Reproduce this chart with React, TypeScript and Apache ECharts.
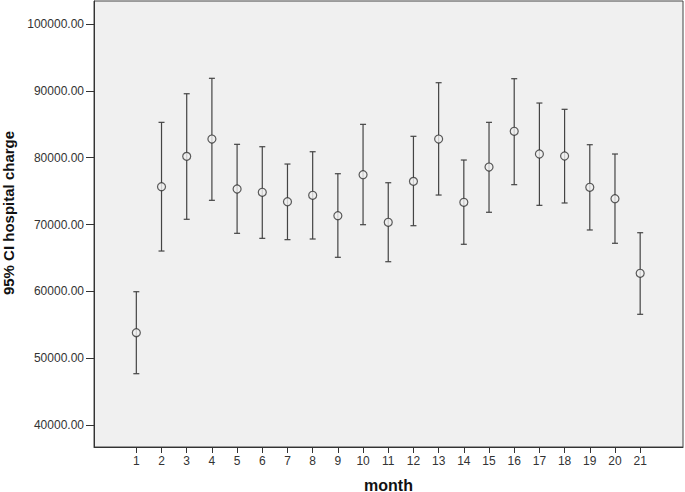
import React, { useEffect, useRef } from "react";
import * as echarts from "echarts";

const months = [1, 2, 3, 4, 5, 6, 7, 8, 9, 10, 11, 12, 13, 14, 15, 16, 17, 18, 19, 20, 21];
const means = [53810, 75660, 80200, 82790, 75310, 74820, 73410, 74370, 71320, 77450, 70330, 76460, 82790, 73320, 78600, 83950, 80550, 80250, 75570, 73860, 62700];
const upper = [59940, 85290, 89570, 91880, 82000, 81640, 79050, 80890, 77600, 84990, 76250, 83200, 91220, 79650, 85290, 91820, 88180, 87240, 81940, 80550, 68770];
const lower = [47670, 66030, 70780, 73620, 68680, 67930, 67730, 67830, 65090, 69970, 64430, 69820, 74410, 67040, 71830, 75960, 72870, 73220, 69180, 67190, 56560];
const yTicks = [40000, 50000, 60000, 70000, 80000, 90000, 100000];

export default function App() {
  const ref = useRef<HTMLDivElement>(null);
  useEffect(() => {
    if (!ref.current) return;
    const chart = echarts.init(ref.current, null, { renderer: "svg" });
    const font = "'Liberation Sans', Arial, sans-serif";
    chart.setOption({
      animation: false,
      grid: {
        left: 94,
        top: 1,
        width: 589,
        height: 446,
        outerBoundsMode: "none",
        containLabel: false,
        show: true,
        backgroundColor: "#f0f0f0",
        borderColor: "#444",
        borderWidth: 1,
      },
      graphic: [
        {
          type: "text",
          x: 8,
          y: 213,
          rotation: Math.PI / 2,
          style: {
            text: "95% CI hospital charge",
            font: "bold 15px 'Liberation Sans', Arial, sans-serif",
            fill: "#111",
            align: "center",
            verticalAlign: "middle",
          },
        },
      ],
      xAxis: {
        type: "value",
        min: -0.68,
        max: 22.7,
        name: "month",
        nameLocation: "middle",
        nameGap: 30,
        nameTextStyle: { fontFamily: font, fontWeight: "bold", fontSize: 16, color: "#111" },
        splitLine: { show: false },
        axisLine: { show: true, onZero: false, lineStyle: { color: "#333", width: 1 } },
        axisTick: { show: true, customValues: months, length: 6, lineStyle: { color: "#333" } },
        axisLabel: {
          customValues: months,
          fontFamily: font,
          fontSize: 12,
          color: "#333",
          margin: 8,
        },
      },
      yAxis: {
        type: "value",
        min: 36700,
        max: 103450,
        splitLine: { show: false },
        axisLine: { show: true, onZero: false, lineStyle: { color: "#333", width: 1 } },
        axisTick: { show: true, customValues: yTicks, length: 8, lineStyle: { color: "#333" } },
        axisLabel: {
          customValues: yTicks,
          fontFamily: font,
          fontSize: 12,
          color: "#333",
          margin: 10,
          formatter: (v: number) => v.toFixed(2),
        },
      },
      series: [
        {
          type: "custom",
          data: months.map((m, i) => [m, lower[i], upper[i]]),
          renderItem: (params: any, api: any) => {
            const x = api.value(0);
            const lo = api.coord([x, api.value(1)]);
            const hi = api.coord([x, api.value(2)]);
            const style = { stroke: "#444", lineWidth: 1.2 };
            const w = 3;
            return {
              type: "group",
              children: [
                { type: "line", shape: { x1: lo[0], y1: lo[1], x2: hi[0], y2: hi[1] }, style },
                { type: "line", shape: { x1: hi[0] - w, y1: hi[1], x2: hi[0] + w, y2: hi[1] }, style },
                { type: "line", shape: { x1: lo[0] - w, y1: lo[1], x2: lo[0] + w, y2: lo[1] }, style },
              ],
            };
          },
          z: 2,
        },
        {
          type: "scatter",
          data: months.map((m, i) => [m, means[i]]),
          symbol: "circle",
          symbolSize: 8,
          itemStyle: { color: "#f0f0f0", borderColor: "#333", borderWidth: 1.2 },
          z: 3,
        },
      ],
    });
    return () => chart.dispose();
  }, []);
  return <div ref={ref} style={{ position: "absolute", left: 0, top: 0, width: 685, height: 492 }} />;
}
